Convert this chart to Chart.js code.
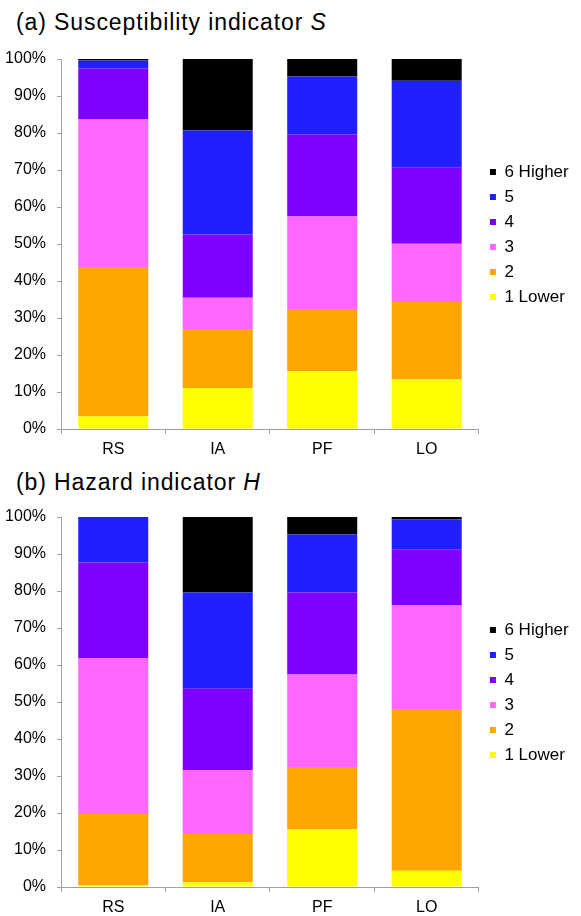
<!DOCTYPE html>
<html>
<head>
<meta charset="utf-8">
<script src="https://cdn.jsdelivr.net/npm/chart.js@4"></script>
<style>
  body { margin: 0; background: #fff; }
  #wrap { position: relative; width: 581px; height: 916px; }
  canvas { position: absolute; left: 0; }
  .title {
    position: absolute; left: 16px; font-family: 'Liberation Sans', Arial, sans-serif;
    font-size: 23px; line-height: 23px; letter-spacing: 0.9px; color: #000; white-space: nowrap;
  }
</style>
</head>
<body>
<div id="wrap">
  <div class="title" style="top:11px">(a) Susceptibility indicator <i>S</i></div>
  <canvas id="chartS" width="581" height="458" style="top:0"></canvas>
  <div class="title" style="top:471px">(b) Hazard indicator <i>H</i></div>
  <canvas id="chartH" width="581" height="458" style="top:458px"></canvas>
</div>
<script>
const categories = ['RS', 'IA', 'PF', 'LO'];
const levelLabels = ['1 Lower', '2', '3', '4', '5', '6 Higher'];
const levelColors = ['#ffff00', '#ffa500', '#ff66ff', '#7f00ff', '#1f1fff', '#000000'];
const yTicks = [0, 10, 20, 30, 40, 50, 60, 70, 80, 90, 100];

// (a) susceptibility, % per level
const sLower  = [3.4, 11.1, 15.6, 13.4];
const s2      = [40.4, 15.9, 16.8, 20.9];
const s3      = [40.0, 8.5, 25.0, 15.8];
const s4      = [13.6, 17.1, 22.2, 20.5];
const s5      = [2.2, 28.1, 15.7, 23.5];
const sHigher = [0.4, 19.3, 4.7, 5.9];

// (b) hazard, % per level
const hLower  = [0.4, 1.3, 15.6, 4.4];
const h2      = [19.3, 13.0, 16.8, 43.7];
const h3      = [42.2, 17.3, 25.0, 28.0];
const h4      = [25.8, 22.0, 22.2, 15.2];
const h5      = [12.3, 26.0, 15.7, 8.0];
const hHigher = [0.0, 20.4, 4.7, 0.7];

const font = 'Liberation Sans, Arial, sans-serif';

// move the legend a bit, like in the original figure
const legendNudge = {
    id: 'legendNudge',
    afterLayout(chart) {
        const l = chart.legend;
        const dx = 3, dy = -24;
        l.left += dx; l.right += dx;
        l.top += dy; l.bottom += dy;
    }
};

const renderChart = (canvasId, series) => {
    const datasets = series.map((values, i) => ({
        label: levelLabels[i],
        data: values,
        backgroundColor: levelColors[i],
        borderWidth: 0,
        categoryPercentage: 1,
        barPercentage: 0.67
    }));

    return new Chart(document.getElementById(canvasId), {
        type: 'bar',
        data: { labels: categories, datasets },
        plugins: [legendNudge],
        options: {
            responsive: false,
            animation: false,
            layout: { padding: { top: 59, left: 0, right: 5.3, bottom: 0 } },
            plugins: {
                title: { display: false },
                tooltip: { enabled: false },
                legend: {
                    position: 'right',
                    reverse: true,
                    labels: {
                        boxWidth: 6,
                        boxHeight: 6,
                        padding: 8,
                        color: '#000',
                        font: { family: font, size: 17 }
                    }
                }
            },
            scales: {
                x: {
                    stacked: true,
                    border: { color: '#a0a0a0', width: 1 },
                    grid: { offset: true, drawOnChartArea: false, tickLength: 5, color: '#a0a0a0' },
                    ticks: { color: '#000', padding: 6, font: { family: font, size: 16 } },
                    afterFit: (s) => { s.height = 29; }
                },
                y: {
                    stacked: true,
                    min: 0,
                    max: 100,
                    border: { color: '#a0a0a0', width: 1 },
                    grid: { drawOnChartArea: false, tickLength: 4, color: '#a0a0a0' },
                    afterBuildTicks: (s) => { s.ticks = yTicks.map(v => ({ value: v })); },
                    ticks: {
                        color: '#000',
                        padding: 11,
                        font: { family: font, size: 16 },
                        callback: (v) => v + '%'
                    },
                    afterFit: (s) => { s.width = 61; }
                }
            }
        }
    });
};

renderChart('chartS', [sLower, s2, s3, s4, s5, sHigher]);
renderChart('chartH', [hLower, h2, h3, h4, h5, hHigher]);
</script>
</body>
</html>
